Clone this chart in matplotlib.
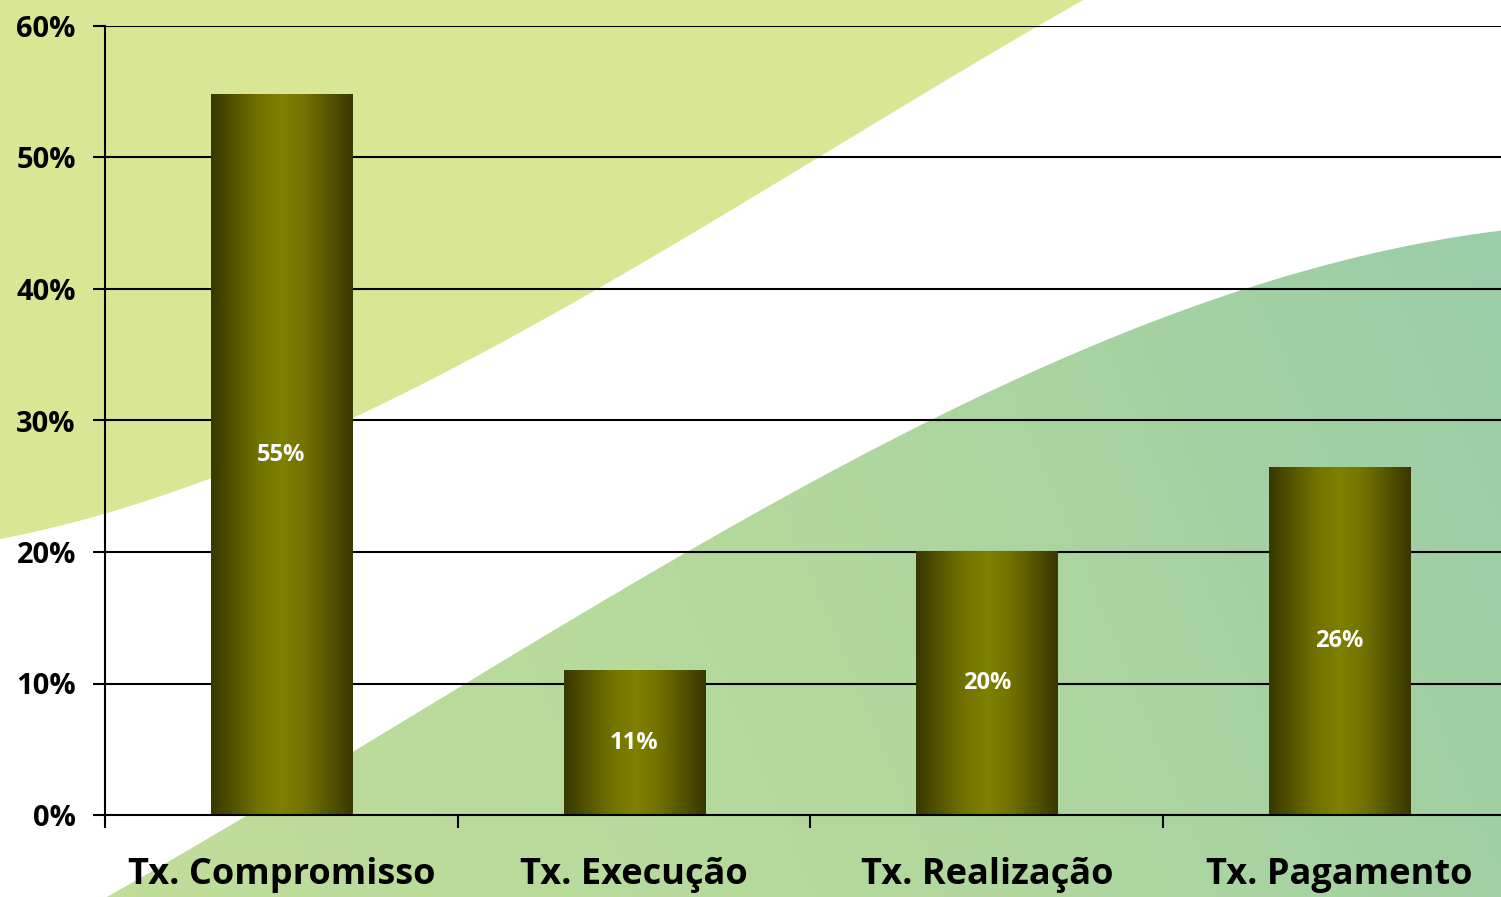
import numpy as np
import matplotlib
matplotlib.use("Agg")
import matplotlib.pyplot as plt
from matplotlib.colors import LinearSegmentedColormap
from matplotlib.patches import Polygon

# dados
categorias = ["Tx. Compromisso", "Tx. Execução", "Tx. Realização", "Tx. Pagamento"]
valores = [0.548, 0.11, 0.201, 0.265]
rotulos = ["55%", "11%", "20%", "26%"]
yticks = [0, 0.1, 0.2, 0.3, 0.4, 0.5, 0.6]
ytick_labels = ["0%", "10%", "20%", "30%", "40%", "50%", "60%"]

plt.rcParams['font.family'] = ['Open Sans', 'DejaVu Sans']
plt.rcParams['font.weight'] = 'bold'

W, H = 1501, 897
fig = plt.figure(figsize=(W / 100, H / 100), dpi=100)

# fundo decorativo (faixas verdes)
bg = fig.add_axes([0, 0, 1, 1], zorder=0)
bg.set_xlim(0, W)
bg.set_ylim(H, 0)
bg.axis("off")

# faixa amarelo-esverdeada (canto superior esquerdo), curva suavizada
xs = np.array([0, 200, 400, 600, 800, 1000, 1085])
ys = np.array([540, 480, 395, 292, 165, 48, 0])
cy = np.polyfit(xs, ys, 3)
xx = np.linspace(0, 1085, 200)
yy = np.polyval(cy, xx)
poly_y = np.column_stack([np.r_[0, xx, 0], np.r_[yy[0], yy, 0]])
bg.add_patch(Polygon(poly_y, closed=True, facecolor="#d9e794", edgecolor="none"))

# faixa verde (canto inferior direito) com gradiente
xg = np.array([105, 300, 500, 704, 914, 1100, 1265, 1407, 1501])
yg = np.array([897, 785, 665, 540, 425, 345, 285, 245, 230])
cg = np.polyfit(xg, yg, 3)
xx = np.linspace(105, W, 200)
yy = np.polyval(cg, xx)
pts = np.column_stack([np.r_[xx, W, 105], np.r_[yy, H, H]])
clip = Polygon(pts, closed=True, facecolor="none", edgecolor="none")
bg.add_patch(clip)
grad_cmap = LinearSegmentedColormap.from_list("g", ["#c2de9a", "#b3d89d", "#97cba9"])
gx = np.linspace(0, 1, 256)[None, :]
gy = np.linspace(0, 1, 64)[:, None]
grad = np.clip(0.8 * gx + 0.2 * (1 - gy), 0, 1)
im = bg.imshow(grad, cmap=grad_cmap, extent=[0, W, H, 0], aspect="auto", zorder=0)
im.set_clip_path(clip)

# eixo principal
ax = fig.add_axes([105 / W, (H - 815) / H, 1411 / W, (815 - 26) / H], zorder=1)
ax.patch.set_alpha(0)

for y in yticks[1:]:
    ax.axhline(y, color="black", lw=1.5, zorder=1)

bar_cmap = LinearSegmentedColormap.from_list(
    "olive", ["#383800", "#555500", "#727200", "#808000", "#727200", "#555500", "#383800"])
xpos = np.arange(len(categorias))
bars = ax.bar(xpos, valores, width=0.4, color="none", edgecolor="none", zorder=2)
g = np.linspace(0, 1, 256)[None, :]
for b in bars:
    x0, y0 = b.get_x(), b.get_y()
    im_b = ax.imshow(g, cmap=bar_cmap, extent=[x0, x0 + b.get_width(), y0, y0 + b.get_height()],
                     aspect="auto", zorder=3)
    im_b.set_clip_path(b)

ax.set_xlim(-0.5, 3.5)
ax.set_ylim(0, 0.6)

for xi, v, t in zip(xpos, valores, rotulos):
    ax.text(xi, v / 2, t, ha="center", va="center", color="white",
            fontsize=17, fontweight="bold", zorder=4)

ax.set_yticks(yticks)
ax.set_yticklabels(ytick_labels, fontsize=21, fontweight="bold")
ax.set_xticks(xpos)
ax.set_xticklabels(categorias, fontsize=26, fontweight="bold")
ax.set_xticks([-0.5, 0.5, 1.5, 2.5], minor=True)
ax.tick_params(axis="x", which="major", length=0, pad=30)
ax.tick_params(axis="x", which="minor", length=9, width=1.5, direction="out")
ax.tick_params(axis="y", length=9, width=1.5, direction="out", pad=12)

for s in ["top", "right"]:
    ax.spines[s].set_visible(False)
ax.spines["left"].set_linewidth(1.5)
ax.spines["bottom"].set_linewidth(1.5)
ax.spines["bottom"].set_zorder(5)

fig.savefig("out.png", dpi=100)
